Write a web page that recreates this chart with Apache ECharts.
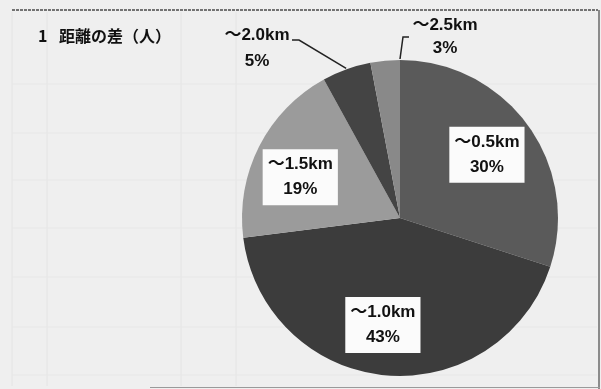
<!DOCTYPE html>
<html>
<head>
<meta charset="utf-8">
<script src="https://cdn.jsdelivr.net/npm/echarts@6/dist/echarts.min.js"></script>
<style>
  html, body { margin: 0; padding: 0; background: #efefef; }
  #chart { width: 601px; height: 389px; }
</style>
</head>
<body>
<div id="chart"></div>
<script>
// Distance bands and their share of people (%)
const categories = ['～0.5km', '～1.0km', '～1.5km', '～2.0km', '～2.5km'];
const shares = [30, 43, 19, 5, 3];
const sliceColors = ['#5a5a5a', '#3c3c3c', '#9b9b9b', '#444444', '#898989'];
const chartTitle = '1\u2002 距離の差（人）';

const CX = 400, CY = 218, R = 158;
const total = shares.reduce((a, b) => a + b, 0);

// start / mid / end angle of each slice, clockwise from 12 o'clock (radians)
const angles = [];
let acc = 0;
shares.forEach(v => {
  const a0 = acc / total * 2 * Math.PI;
  acc += v;
  const a1 = acc / total * 2 * Math.PI;
  angles.push({ a0, a1, mid: (a0 + a1) / 2 });
});
const polar = (a, r) => [CX + r * Math.sin(a), CY - r * Math.cos(a)];

const FONT = '"Liberation Sans", "Noto Sans CJK JP", sans-serif';

const insideLabel = {
  position: 'inside',
  backgroundColor: '#fbfbfb',
  padding: [3, 5, 3, 5],
  lineHeight: 25
};
const outsideLabel = { position: 'outside', lineHeight: 25 };

const data = categories.map((name, i) => ({
  name,
  value: shares[i],
  itemStyle: { color: sliceColors[i] },
  label: i < 3 ? insideLabel : (i === 3 ? Object.assign({}, outsideLabel, { lineHeight: 26 }) : Object.assign({}, outsideLabel, { lineHeight: 23 })),
  labelLine: { show: i >= 3 }
}));

// small nudges for the boxed captions inside the slices
const insideNudge = [[0, 0], [-7, 0], [-4, 8]];

// where the outside captions sit, and how their leader lines bend
const outsideSpots = {
  3: { x: 257, y: 48, bend: [[292, 40], [299, 40]], endAngle: 'mid' },
  4: { x: 445, y: 37, bend: [[409, 37], [403, 37]], endAngle: 'end' }
};

const chart = echarts.init(document.getElementById('chart'), null, { renderer: 'canvas' });

// faint ruled lines of the sheet behind the chart
const gridV = [12, 47, 181, 236];
const gridH = [84, 133, 180, 228, 277, 327, 375];
const graphics = [];
gridV.forEach(x => graphics.push({
  type: 'line', silent: true, z: -10,
  shape: { x1: x, y1: 12, x2: x, y2: 386 },
  style: { stroke: '#e4e4e4', lineWidth: 1 }
}));
gridH.forEach(y => graphics.push({
  type: 'line', silent: true, z: -10,
  shape: { x1: 12, y1: y, x2: 597, y2: y },
  style: { stroke: '#e7e7e7', lineWidth: 1 }
}));
// frame edges
graphics.push({
  type: 'line', silent: true, z: -5,
  shape: { x1: 12, y1: 10, x2: 598, y2: 10 },
  style: { stroke: '#4a4a4a', lineWidth: 1.5, lineDash: [3, 1] }
});
graphics.push({
  type: 'line', silent: true, z: -5,
  shape: { x1: 599, y1: 10, x2: 599, y2: 389 },
  style: { stroke: '#6a6a6a', lineWidth: 1.5 }
});
graphics.push({
  type: 'line', silent: true, z: -5,
  shape: { x1: 150, y1: 387.5, x2: 600, y2: 387.5 },
  style: { stroke: '#9a9a9a', lineWidth: 1 }
});

chart.setOption({
  backgroundColor: '#efefef',
  animation: false,
  title: {
    text: chartTitle,
    left: 33,
    top: 23,
    textStyle: {
      fontFamily: '"Noto Sans CJK JP", sans-serif',
      fontSize: 16,
      fontWeight: 'bold',
      color: '#111'
    }
  },
  graphic: graphics,
  series: [{
    type: 'pie',
    center: [CX, CY],
    radius: [0, R],
    startAngle: 90,
    clockwise: true,
    avoidLabelOverlap: false,
    itemStyle: { borderWidth: 0 },
    label: {
      show: true,
      formatter: '{b}\n{c}%',
      fontFamily: FONT,
      fontSize: 17,
      fontWeight: 'bold',
      color: '#111',
      align: 'center',
      verticalAlign: 'middle'
    },
    labelLine: {
      lineStyle: { color: '#222', width: 1.5 },
      length: 10,
      length2: 10
    },
    labelLayout: function (params) {
      const i = params.dataIndex;
      const ang = angles[i];
      if (i < 3) {
        const p = polar(ang.mid, R * 0.68);
        return {
          x: p[0] + insideNudge[i][0], y: p[1] + insideNudge[i][1],
          align: 'center', verticalAlign: 'middle'
        };
      }
      const spot = outsideSpots[i];
      const edge = polar(spot.endAngle === 'mid' ? ang.mid : ang.a1, R + 1);
      return {
        x: spot.x, y: spot.y, align: 'center', verticalAlign: 'middle',
        labelLinePoints: [spot.bend[0], spot.bend[1], edge]
      };
    },
    data
  }]
});
</script>
</body>
</html>
